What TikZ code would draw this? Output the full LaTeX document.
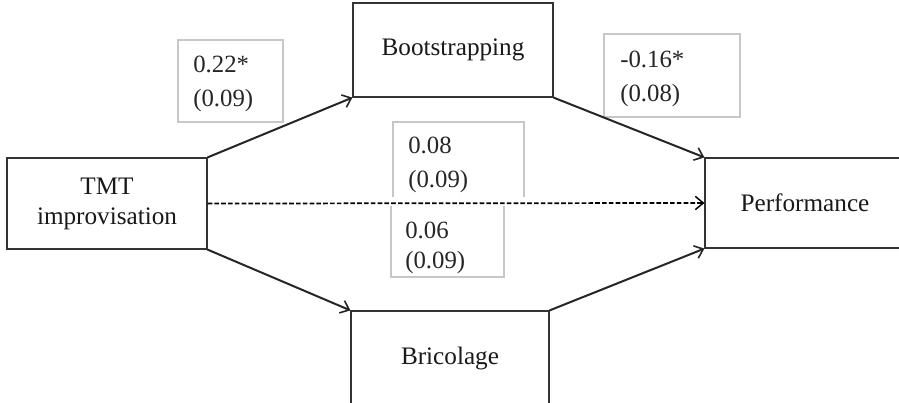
\documentclass[tikz,border=0pt]{standalone}
\usepackage{fontspec}
\setmainfont{Liberation Serif}
\usetikzlibrary{arrows.meta}
\begin{document}
\begin{tikzpicture}[x=0.75pt,y=-0.75pt,
  mainbox/.style={draw=black!80,line width=0.9pt,inner sep=0pt,align=center,text=black!90,
    font=\fontsize{18.9}{22.5}\selectfont},
  lbltext/.style={anchor=base west,inner sep=0pt,text=black!85,
    font=\fontsize{18.6}{22.5}\selectfont},
  lblbox/.style={draw=black!22,line width=0.9pt},
  conn/.style={draw=black!85,line width=1.5pt,-{Straight Barb[length=6pt,width=10pt,line width=1.2pt]}},
  dconn/.style={draw=black,line width=1.3pt,dash pattern=on 3.5pt off 1.6pt,-{Straight Barb[length=6pt,width=10pt,line width=1.1pt]}}
]
\useasboundingbox (0,0) rectangle (899,403);
\fill[white] (0,0) rectangle (899,403);
\clip (0,0) rectangle (899,403);

% main boxes
\node[mainbox,minimum width=150pt,minimum height=68.25pt] (tmt) at (107,203.5) {TMT\\improvisation};
\node[mainbox,minimum width=150pt,minimum height=70.5pt] (boot) at (453,50) {Bootstrapping};
\node[mainbox,minimum width=150pt,minimum height=67.5pt] (perf) at (805,203) {Performance};
\node[mainbox,minimum width=148.5pt,minimum height=70.5pt] (bric) at (450,358) {Bricolage};

% label boxes
\draw[lblbox] (178,40) rectangle (283,122);
\node[lbltext] (l1a) at (193,73) {0.22*};
\node[lbltext] (l1b) at (193,107) {(0.09)};

\draw[lblbox] (604,34) rectangle (740,117);
\node[lbltext] (l2a) at (620,68) {-0.16*};
\node[lbltext] (l2b) at (620,101) {(0.08)};

\draw[lblbox] (393,197) -- (393,122) -- (524,122) -- (524,197);
\node[lbltext] (l3a) at (408,153) {0.08};
\node[lbltext] (l3b) at (408,187) {(0.09)};

\draw[lblbox] (391,206) -- (391,277) -- (504,277) -- (504,206);
\node[lbltext] (l4a) at (405,238) {0.06};
\node[lbltext] (l4b) at (405,268) {(0.09)};

% connectors
\draw[conn] (tmt.north east) -- (boot.south west);
\draw[conn] (boot.south east) -- (perf.north west);
\draw[conn] (tmt.south east) -- (bric.north west);
\draw[conn] (bric.north east) -- (perf.south west);
\draw[dconn] (tmt.east) -- (perf.west);
\end{tikzpicture}
\end{document}
